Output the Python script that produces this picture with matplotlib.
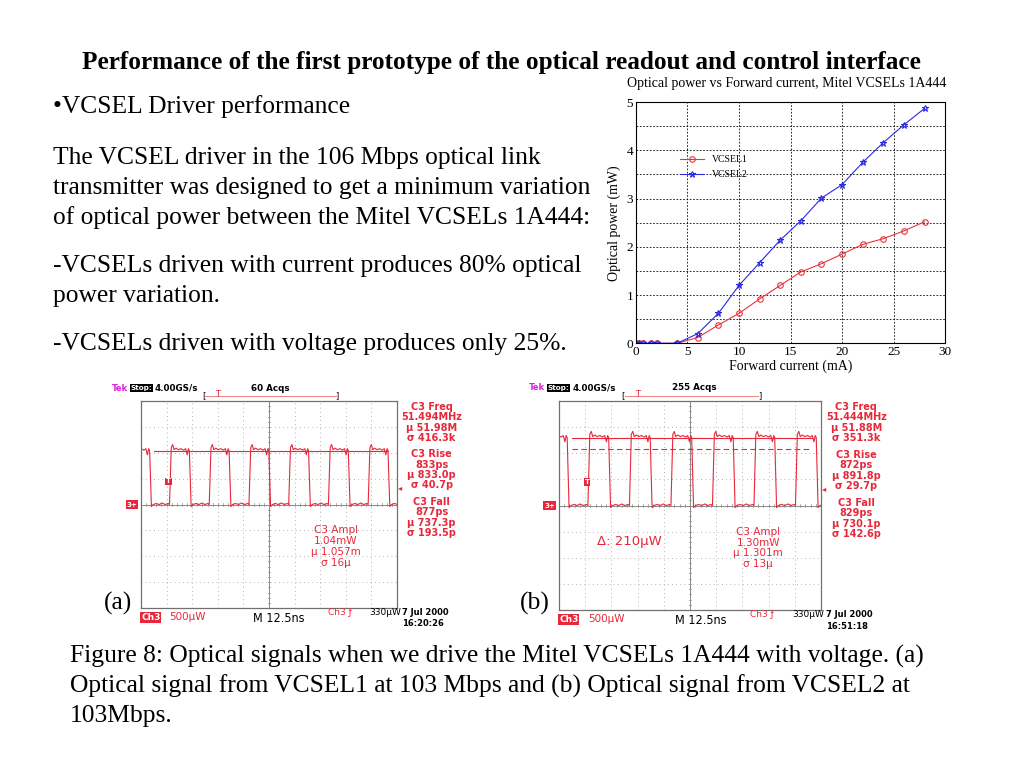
import matplotlib.pyplot as plt
import numpy as np

# optical power vs forward current, Mitel VCSELs 1A444
current_ma = [0, 0.3, 0.7, 1.5, 2, 4, 6, 8, 10, 12, 14, 16, 18, 20, 22, 24, 26, 28]
vcsel1_mw = [0, 0, 0, 0, 0, 0, 0.12, 0.38, 0.62, 0.92, 1.2, 1.48, 1.65, 1.85, 2.05, 2.17, 2.33, 2.52]
vcsel2_mw = [0, 0, 0, 0, 0, 0, 0.2, 0.62, 1.2, 1.67, 2.14, 2.54, 3.01, 3.29, 3.75, 4.16, 4.53, 4.87]

# scope captures (a) VCSEL1 and (b) VCSEL2, 103 Mbps 1010 pattern
bits = [1, 0, 1, 0, 1, 0, 1, 0, 1, 0, 1, 0, 1, 0, 1]
first_edge_ns = [4.5, 4.2]
bit_ns = [9.7, 9.9]
ampl_mw = [1.04, 1.30]
delta_mw = 0.21
trig_mw = 0.33

# waveform shape inside one bit (fraction of bit time, offset in mW)
high_f = [0.06, 0.13, 0.2, 0.3, 0.42, 0.55, 0.68, 0.78, 0.86, 0.92, 0.97]
high_dv = [0.06, 0.12, 0.02, 0.05, 0.02, 0.04, 0.01, 0.04, -0.08, 0.04, 0.0]
low_f = [0.06, 0.15, 0.3, 0.45, 0.6, 0.75, 0.9, 0.97]
low_dv = [-0.04, 0.0, 0.02, 0.0, 0.03, 0.0, 0.02, 0.0]

meas_a = ['C3 Freq', '51.494MHz', 'µ 51.98M', 'σ 416.3k',
          'C3 Rise', '833ps', 'µ 833.0p', 'σ 40.7p',
          'C3 Fall', '877ps', 'µ 737.3p', 'σ 193.5p']
meas_b = ['C3 Freq', '51.444MHz', 'µ 51.88M', 'σ 351.3k',
          'C3 Rise', '872ps', 'µ 891.8p', 'σ 29.7p',
          'C3 Fall', '829ps', 'µ 730.1p', 'σ 142.6p']
ampl_a = ['C3 Ampl', '1.04mW', 'µ 1.057m', 'σ 16µ']
ampl_b = ['C3 Ampl', '1.30mW', 'µ 1.301m', 'σ 13µ']
acqs = ['60 Acqs', '255 Acqs']
stamps = ['7 Jul 2000\n16:20:26', '7 Jul 2000\n16:51:18']

SERIF = 'Liberation Serif'
MONO = 'DejaVu Sans'
SCOPE_RED = '#e8283a'
BODY = 18.4

fig = plt.figure(figsize=(10.24, 7.68), dpi=100)

def fy(py):
    return 1 - py / 768.0

# slide text
fig.text(0.49, fy(62), 'Performance of the first prototype of the optical readout and control interface',
         ha='center', va='center', family=SERIF, weight='bold', fontsize=18.2)
fig.text(0.052, fy(107), '•VCSEL Driver performance', va='center', family=SERIF, fontsize=BODY)
body = ['The VCSEL driver in the 106 Mbps optical link',
        'transmitter was designed to get a minimum variation',
        'of optical power between the Mitel VCSELs 1A444:']
for k, line in enumerate(body):
    fig.text(0.052, fy(158 + 30 * k), line, va='center', family=SERIF, fontsize=BODY)
fig.text(0.052, fy(266), '-VCSELs driven with current produces 80% optical', va='center', family=SERIF, fontsize=BODY)
fig.text(0.052, fy(296), 'power variation.', va='center', family=SERIF, fontsize=BODY)
fig.text(0.052, fy(344), '-VCSELs driven with voltage produces only 25%.', va='center', family=SERIF, fontsize=BODY)
caption = ['Figure 8: Optical signals when we drive the Mitel VCSELs 1A444 with voltage. (a)',
           'Optical signal from VCSEL1 at 103 Mbps and (b) Optical signal from VCSEL2 at',
           '103Mbps.']
for k, line in enumerate(caption):
    fig.text(0.068, fy(656 + 30 * k), line, va='center', family=SERIF, fontsize=BODY)

# power vs current chart
ax = fig.add_axes([0.621, 0.553, 0.302, 0.314])
ax.plot(current_ma, vcsel1_mw, color='#e8343c', lw=0.8, marker='o', ms=4, mfc='none', mew=0.8, label='VCSEL1')
ax.plot(current_ma, vcsel2_mw, color='#2a2ae0', lw=0.8, marker='*', ms=5, mfc='none', mew=0.8, label='VCSEL2')
ax.set_xlim(0, 30)
ax.set_ylim(0, 5)
ax.set_xticks([0, 5, 10, 15, 20, 25, 30])
ax.set_yticks([0, 1, 2, 3, 4, 5])
ax.set_yticks(np.arange(0.5, 5, 1.0), minor=True)
ax.grid(True, which='major', color='black', lw=0.6, ls=(0, (2, 2)))
ax.grid(True, which='minor', axis='y', color='black', lw=0.6, ls=(0, (2, 2)))
ax.tick_params(which='both', length=0, labelsize=9.5, pad=2)
for lab in ax.get_xticklabels() + ax.get_yticklabels():
    lab.set_family(SERIF)
ax.set_xlabel('Forward current (mA)', family=SERIF, fontsize=10, labelpad=1)
ax.set_ylabel('Optical power (mW)', family=SERIF, fontsize=10, labelpad=4)
ax.legend(loc=(0.13, 0.665), frameon=False, prop={'family': SERIF, 'size': 7}, handlelength=2.5, labelspacing=0.6)
for s in ax.spines.values():
    s.set_linewidth(0.8)
fig.text(0.768, fy(84), 'Optical power vs Forward current, Mitel VCSELs 1A444',
         ha='center', va='center', family=SERIF, fontsize=10)


def waveform(k):
    t, v = [], []
    t0 = first_edge_ns[k] - bit_ns[k]
    for i, b in enumerate(bits):
        start = t0 + i * bit_ns[k]
        if b:
            for f, dv in zip(high_f, high_dv):
                t.append(start + f * bit_ns[k])
                v.append(ampl_mw[k] + dv)
        else:
            for f, dv in zip(low_f, low_dv):
                t.append(start + f * bit_ns[k])
                v.append(dv)
    return t, v


def draw_scope(rect, k, meas, ampl_txt):
    sa = fig.add_axes(rect)
    sa.set_xlim(0, 125)
    sa.set_ylim(-2, 2)
    sa.set_xticks([])
    sa.set_yticks([])
    for s in sa.spines.values():
        s.set_color('#707070')
        s.set_linewidth(0.9)
    for x in np.arange(12.5, 125, 12.5):
        sa.axvline(x, color='#9a9a9a', lw=0.6, ls=(0, (1, 4)))
    for y in np.arange(-1.5, 2, 0.5):
        sa.axhline(y, color='#9a9a9a', lw=0.6, ls=(0, (1, 4)))
    sa.axvline(62.5, color='#8a8a8a', lw=0.7)
    sa.axhline(0, color='#8a8a8a', lw=0.7)
    for x in np.arange(0, 125, 2.5):
        sa.plot([x, x], [-0.03, 0.03], color='#8a8a8a', lw=0.5)
    for y in np.arange(-2, 2, 0.1):
        sa.plot([61.8, 63.2], [y, y], color='#8a8a8a', lw=0.5)

    t, v = waveform(k)
    sa.plot(t, v, color=SCOPE_RED, lw=0.8)
    sa.plot([6.2, 120.5], [ampl_mw[k], ampl_mw[k]], color=SCOPE_RED, lw=0.8)
    if k == 1:
        sa.plot([6.2, 120.5], [ampl_mw[k] - delta_mw] * 2, color=SCOPE_RED, lw=0.8, ls=(0, (5, 3)))
        sa.text(0.27, 0.33, 'Δ: 210µW', transform=sa.transAxes, color=SCOPE_RED,
                family=MONO, fontsize=9.5, ha='center', va='center')
    # trigger markers
    sa.text(13.5, 0.45, 'T', color='white', fontsize=5, family=MONO, weight='bold', ha='center', va='center',
            bbox=dict(boxstyle='square,pad=0.1', fc=SCOPE_RED, ec='none'))
    sa.text(1.005, trig_mw, '◂', transform=sa.get_yaxis_transform(), color=SCOPE_RED, fontsize=6,
            ha='left', va='center', family=MONO)
    sa.text(-0.035, 0.5, '3+', transform=sa.transAxes, color='white', fontsize=5, family=MONO, weight='bold',
            ha='center', va='center', bbox=dict(boxstyle='square,pad=0.15', fc=SCOPE_RED, ec='none'))

    # header
    sa.text(-0.115, 1.063, 'Tek', transform=sa.transAxes, color='#e020e0', fontsize=6, family=MONO,
            weight='bold', va='center')
    sa.text(-0.042, 1.063, 'Stop:', transform=sa.transAxes, color='white', fontsize=5.2, family=MONO,
            weight='bold', va='center', bbox=dict(boxstyle='square,pad=0.1', fc='black', ec='none'))
    sa.text(0.052, 1.063, '4.00GS/s', transform=sa.transAxes, color='black', fontsize=6.3, family=MONO,
            weight='bold', va='center')
    sa.text(0.43, 1.063, acqs[k], transform=sa.transAxes, color='black', fontsize=6.3, family=MONO,
            weight='bold', va='center')
    sa.plot([0.25, 0.76], [1.025, 1.025], transform=sa.transAxes, color='#f08080', lw=0.7, clip_on=False)
    sa.text(0.245, 1.025, '[', transform=sa.transAxes, color='black', fontsize=6, ha='center', va='center')
    sa.text(0.765, 1.025, ']', transform=sa.transAxes, color='black', fontsize=6, ha='center', va='center')
    sa.text(0.30, 1.03, 'T', transform=sa.transAxes, color=SCOPE_RED, fontsize=6, ha='center', va='center',
            family=MONO)

    # measurement readout
    for j, line in enumerate(meas):
        y = 0.972 - 0.05 * j - 0.03 * (j // 4)
        sa.text(1.135, y, line, transform=sa.transAxes, color=SCOPE_RED, fontsize=7, family=MONO,
                weight='bold', ha='center', va='center')
    for j, line in enumerate(ampl_txt):
        sa.text(0.76, 0.375 - 0.052 * j, line, transform=sa.transAxes, color=SCOPE_RED, fontsize=7.5,
                family=MONO, ha='center', va='center')

    # footer
    sa.text(0.0, -0.045, 'Ch3', transform=sa.transAxes, color='white', fontsize=6.5, family=MONO,
            weight='bold', va='center', bbox=dict(boxstyle='square,pad=0.1', fc=SCOPE_RED, ec='none'))
    sa.text(0.11, -0.045, '500µW', transform=sa.transAxes, color=SCOPE_RED, fontsize=7.5, family=MONO,
            va='center')
    sa.text(0.54, -0.05, 'M 12.5ns', transform=sa.transAxes, color='black', fontsize=9, family=MONO,
            ha='center', va='center', fontstretch='condensed')
    sa.text(0.73, -0.02, 'Ch3 ƒ', transform=sa.transAxes, color=SCOPE_RED, fontsize=6.5, family=MONO,
            va='center')
    sa.text(0.89, -0.02, '330µW', transform=sa.transAxes, color='black', fontsize=6.5, family=MONO,
            va='center')
    sa.text(1.02, -0.05, stamps[k], transform=sa.transAxes, color='black', fontsize=6, family=MONO,
            weight='bold', va='center', linespacing=1.3)
    return sa


draw_scope([0.1377, 0.2083, 0.25, 0.2695], 0, meas_a, ampl_a)
draw_scope([0.5459, 0.2057, 0.2559, 0.2721], 1, meas_b, ampl_b)
fig.text(0.101, fy(603), '(a)', va='center', family=SERIF, fontsize=BODY)
fig.text(0.508, fy(603), '(b)', va='center', family=SERIF, fontsize=BODY)

fig.savefig('out.png', dpi=100, facecolor='white')
